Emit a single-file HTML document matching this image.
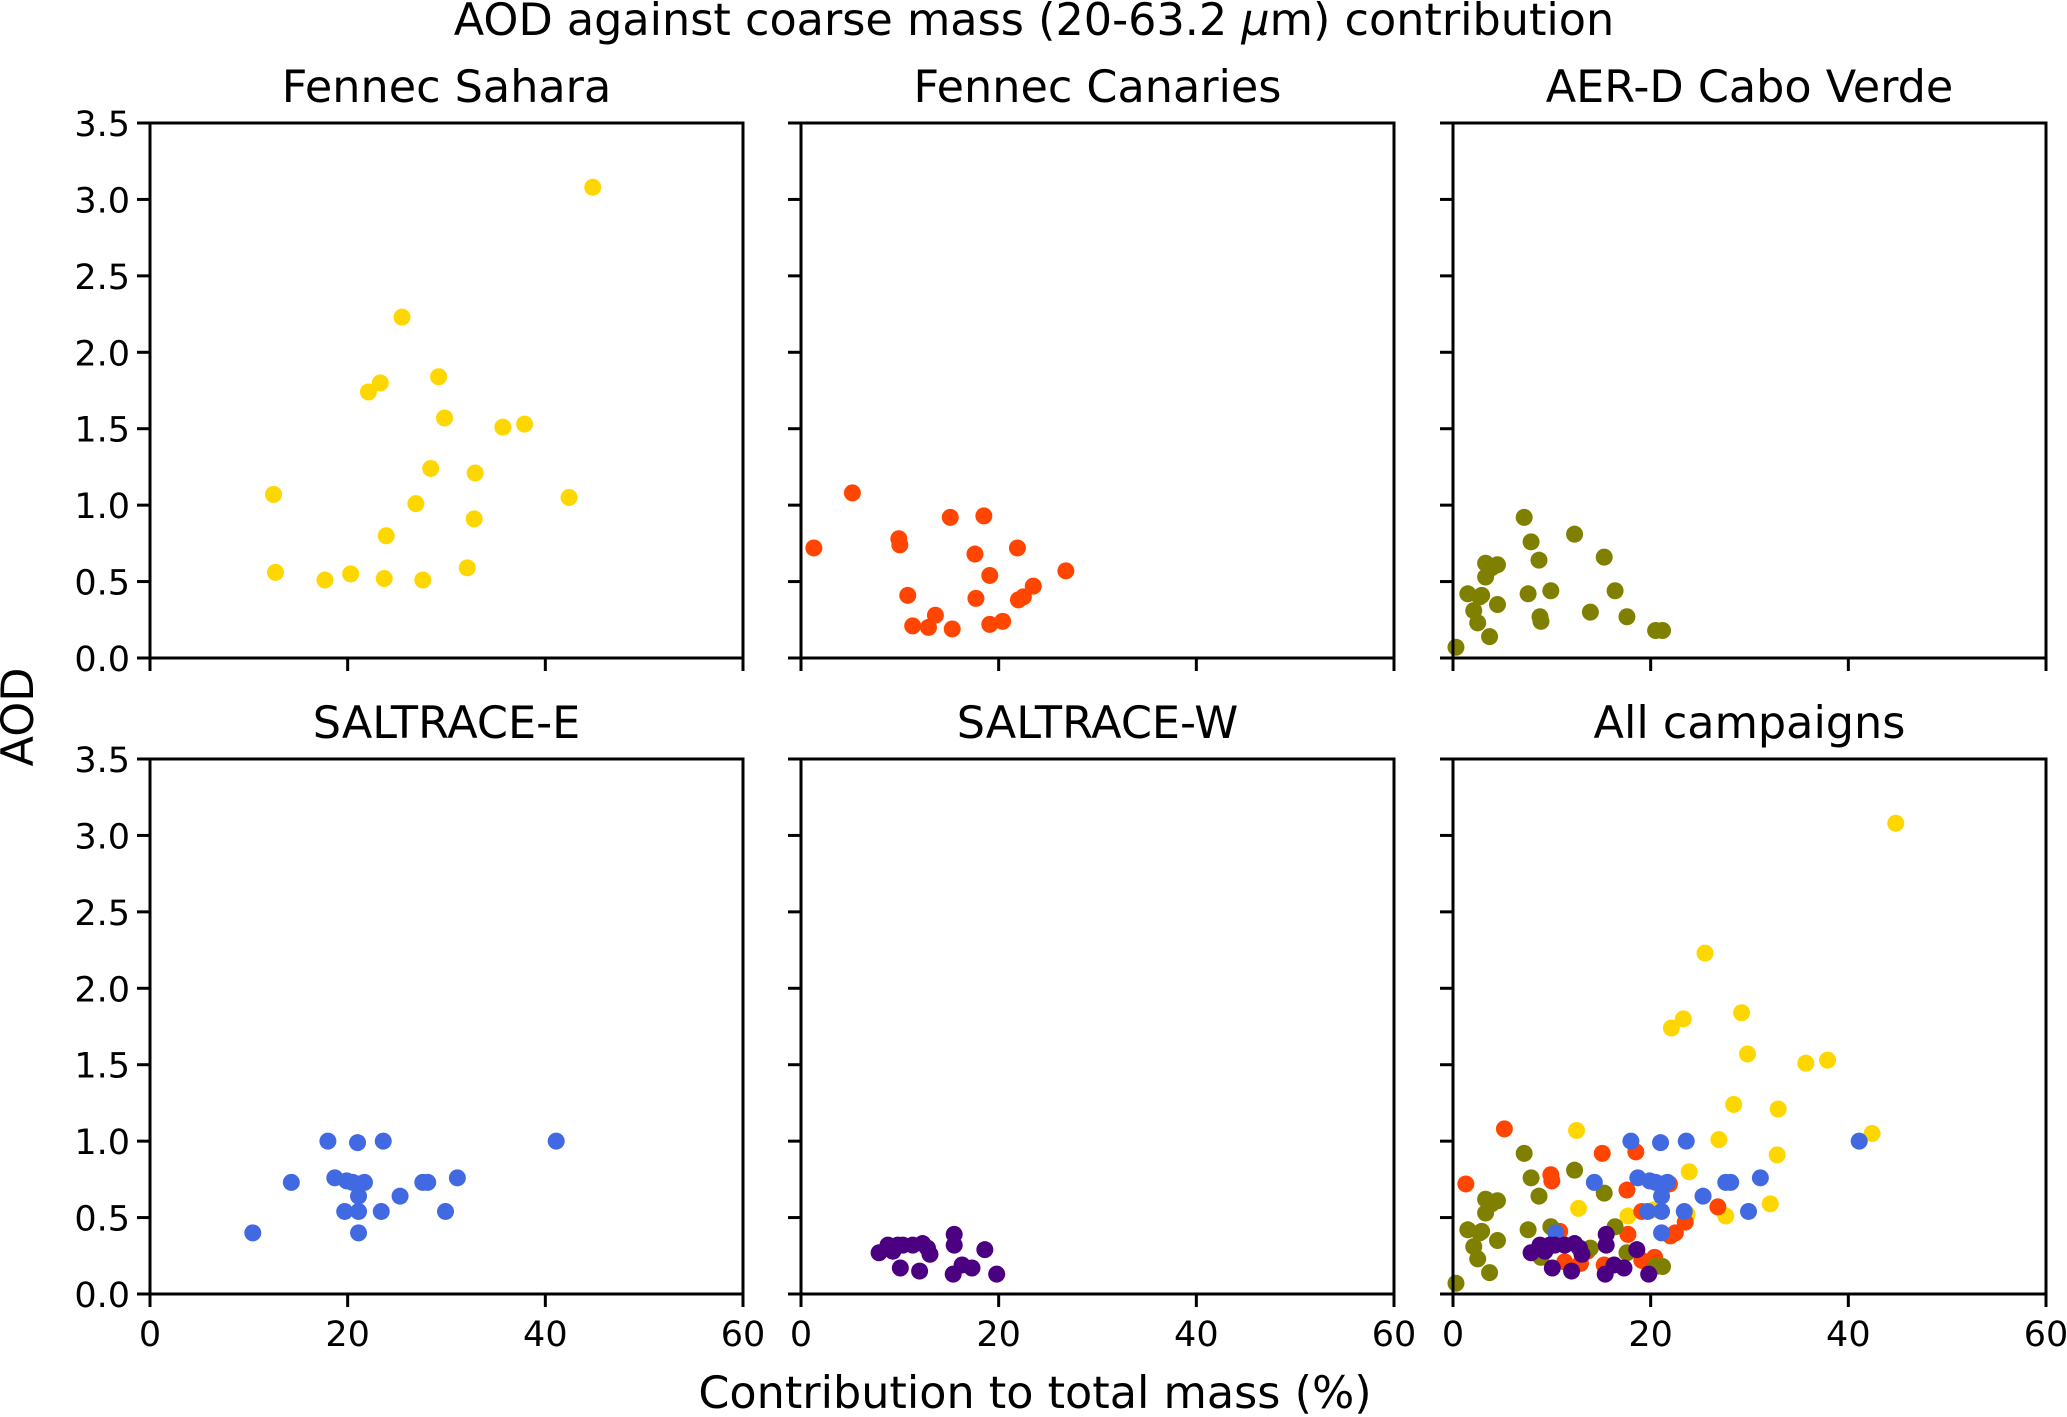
<!DOCTYPE html>
<html><head><meta charset="utf-8">
<style>
html,body{margin:0;padding:0;background:#fff;}
svg{display:block;font-family:"DejaVu Sans","Liberation Sans",sans-serif;}
</style></head>
<body>
<svg id="fig" width="2067" height="1417" viewBox="0 0 2067 1417" xmlns="http://www.w3.org/2000/svg">
<rect width="2067" height="1417" fill="#fff"/>
<text x="1034" y="35" font-size="44.5" text-anchor="middle">AOD against coarse mass (20-63.2 <tspan font-style="italic">μ</tspan>m) contribution</text>
<text x="1035" y="1408" font-size="44.5" text-anchor="middle">Contribution to total mass (%)</text>
<text transform="translate(33,717) rotate(-90)" font-size="44.5" text-anchor="middle">AOD</text>
<g id="panels"></g>
</svg>
<script>
const xTicks = [0, 20, 40, 60];
const yTicks = [0.0, 0.5, 1.0, 1.5, 2.0, 2.5, 3.0, 3.5];
const campaigns = ["Fennec Sahara", "Fennec Canaries", "AER-D Cabo Verde", "SALTRACE-E", "SALTRACE-W"];
const colors = ["#FFD700", "#FF4500", "#808000", "#4169E1", "#4B0082"];
const saharaX = [12.5,12.7,17.7,20.3,22.1,23.3,23.7,23.9,25.5,26.9,27.6,28.4,29.2,29.8,32.1,32.8,32.9,35.7,37.9,42.4,44.8];
const saharaY = [1.07,0.56,0.51,0.55,1.74,1.80,0.52,0.80,2.23,1.01,0.51,1.24,1.84,1.57,0.59,0.91,1.21,1.51,1.53,1.05,3.08];
const canariesX = [1.3,5.2,9.9,10.0,10.8,11.3,12.9,13.6,15.1,15.3,17.6,17.7,18.5,19.1,19.1,20.4,21.9,22.0,22.5,23.5,26.8];
const canariesY = [0.72,1.08,0.78,0.74,0.41,0.21,0.20,0.28,0.92,0.19,0.68,0.39,0.93,0.54,0.22,0.24,0.72,0.38,0.40,0.47,0.57];
const caboX = [0.3,1.5,2.1,2.5,2.7,2.9,3.3,3.3,3.7,3.9,4.5,4.5,7.2,7.6,7.9,8.7,8.8,8.9,9.9,12.3,13.9,15.3,16.4,17.6,20.5,21.2];
const caboY = [0.07,0.42,0.31,0.23,0.40,0.41,0.62,0.53,0.14,0.59,0.35,0.61,0.92,0.42,0.76,0.64,0.27,0.24,0.44,0.81,0.30,0.66,0.44,0.27,0.18,0.18];
const saltEX = [10.4,14.3,18.0,18.7,19.7,19.9,20.5,21.0,21.1,21.1,21.1,21.2,21.7,23.4,23.6,25.3,27.6,28.1,29.9,31.1,41.1];
const saltEY = [0.40,0.73,1.00,0.76,0.54,0.74,0.73,0.99,0.54,0.64,0.40,0.72,0.73,0.54,1.00,0.64,0.73,0.73,0.54,0.76,1.00];
const saltWX = [7.9,8.8,9.3,9.8,10.05,10.3,11.3,12.0,12.3,13.05,12.8,15.4,15.5,15.5,16.3,17.3,18.6,19.8];
const saltWY = [0.27,0.32,0.28,0.32,0.17,0.32,0.32,0.15,0.33,0.26,0.30,0.13,0.39,0.32,0.19,0.17,0.29,0.13];
const seriesX = [saharaX, canariesX, caboX, saltEX, saltWX];
const seriesY = [saharaY, canariesY, caboY, saltEY, saltWY];

const NS = "http://www.w3.org/2000/svg";
const colsX = [150, 801, 1453], rowsY = [123, 759], W = 593, H = 535;
const g = document.getElementById("panels");
function mk(tag, attrs, parent) {
  const e = document.createElementNS(NS, tag);
  for (const k in attrs) e.setAttribute(k, attrs[k]);
  parent.appendChild(e);
  return e;
}
const titles = ["Fennec Sahara", "Fennec Canaries", "AER-D Cabo Verde", "SALTRACE-E", "SALTRACE-W", "All campaigns"];
for (let p = 0; p < 6; p++) {
  const c = p % 3, r = Math.floor(p / 3);
  const x0 = colsX[c], y0 = rowsY[r];
  const sx = v => x0 + v / 60 * W;
  const sy = v => y0 + H - v / 3.5 * H;
  const pg = mk("g", {}, g);
  
  
  const t = mk("text", {x: x0 + W / 2, y: y0 - 21, "font-size": 44.5, "text-anchor": "middle"}, pg);
  
  
  t.textContent = titles[p];
  const idx = p < 5 ? [p] : [0, 1, 2, 3, 4];
  for (const s of idx) {
    for (let i = 0; i < seriesX[s].length; i++) {
      const d = mk("circle", {cx: sx(seriesX[s][i]), cy: sy(seriesY[s][i]), r: 8.5, fill: colors[s]}, pg);
      
      
    }
  }
  const fr = mk("rect", {x: x0, y: y0, width: W, height: H, fill: "none", stroke: "#000", "stroke-width": 3}, pg);
  
  
  for (const v of xTicks) {
    const tk = mk("line", {x1: sx(v), x2: sx(v), y1: y0 + H, y2: y0 + H + 13, stroke: "#000", "stroke-width": 3}, pg);
    
    
    if (r === 1) {
      const tl = mk("text", {x: sx(v), y: y0 + H + 52, "font-size": 35, "text-anchor": "middle"}, pg);
      
      
      tl.textContent = v;
    }
  }
  for (const v of yTicks) {
    const tk = mk("line", {x1: x0 - 13, x2: x0, y1: sy(v), y2: sy(v), stroke: "#000", "stroke-width": 3}, pg);
    
    
    if (c === 0) {
      const tl = mk("text", {x: x0 - 20, y: sy(v) + 13, "font-size": 35, "text-anchor": "end"}, pg);
      
      
      tl.textContent = v.toFixed(1);
    }
  }
}
</script>
</body></html>
